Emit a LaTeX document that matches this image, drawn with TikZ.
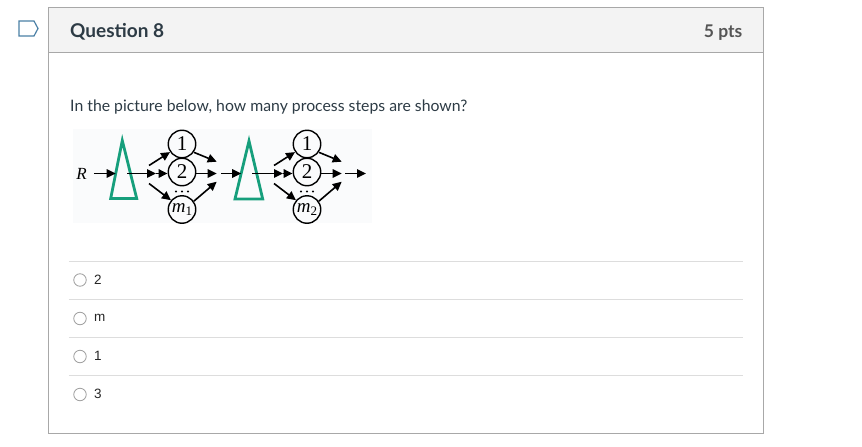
\documentclass[tikz,border=0pt]{standalone}
\usepackage{fontspec}
\setmainfont{Lato}
\newfontfamily\seriffont{Liberation Serif}
\newfontfamily\arialfont{Liberation Sans}
\usetikzlibrary{arrows.meta}
\definecolor{bordergray}{HTML}{A8A8A8}
\definecolor{headbg}{HTML}{F3F3F3}
\definecolor{textdark}{HTML}{2D3B45}
\definecolor{ptsgray}{HTML}{555555}
\definecolor{sepgray}{HTML}{DDDDDD}
\definecolor{radiogray}{HTML}{A0A0A0}
\definecolor{flagblue}{HTML}{4A7FA5}
\definecolor{trigreen}{HTML}{169F7C}
\definecolor{imgbg}{HTML}{FAFBFC}
\tikzset{
  proc/.style={circle, draw, line width=1.4pt, minimum size=27.5pt, inner sep=0pt,
    font=\seriffont\fontsize{21}{21}\selectfont},
  flow/.style={line width=1.6pt, -{Triangle[length=9pt,width=8.5pt]}},
  tri/.style={draw=trigreen, line width=2.8pt, line join=miter},
  dot/.style={circle, fill, inner sep=0pt, minimum size=2.2pt},
  radio/.style={circle, draw=radiogray, line width=0.8pt, minimum size=12.5pt, inner sep=0pt},
  answer/.style={anchor=west, inner sep=0pt, text=black!85, font=\arialfont\fontsize{13.5}{14}\selectfont},
  sep/.style={draw=sepgray, line width=1pt}
}
\begin{document}
\begin{tikzpicture}[x=1pt,y=-1pt]
\useasboundingbox (0,0) rectangle (862,447);
% card
\fill[headbg] (48,7) rectangle (763,52);
\draw[bordergray, line width=1pt] (48,7) rectangle (763,433);
\draw[bordergray, line width=1pt] (48,52) -- (763,52);
% flag icon
\draw[flagblue, line width=1.2pt, line join=miter] (19,21) -- (34,21) -- (38,28.5) -- (34,36) -- (19,36) -- cycle;
% header texts
\node[anchor=base west, inner sep=0pt, text=textdark, font=\fontsize{19}{19}\selectfont\bfseries] (q) at (70,37) {Question 8};
\node[anchor=base east, inner sep=0pt, text=ptsgray, font=\fontsize{17.5}{18}\selectfont\bfseries] (pts) at (742.5,37) {5 pts};
% question
\node[anchor=base west, inner sep=0pt, text=textdark, font=\fontsize{15.8}{17}\selectfont] (qt) at (70,111) {In the picture below, how many process steps are shown?};
% image background
\fill[imgbg] (73,129) rectangle (372,223);
% diagram
\node[inner sep=0pt, font=\seriffont\itshape\fontsize{17}{17}\selectfont] (R) at (81.5,173.5) {R};
\draw[tri] (110.7,198.5) -- (122.3,140.5) -- (136.7,198.5) -- cycle;
\coordinate (t1in) at (115.7,173.5);
\coordinate (t1c) at (127,173.5);
\coordinate (f1) at (156,173.5);
\node[proc] (a1) at (182,144) {1};
\node[proc] (a2) at (182,172) {2};
\node[proc] (am) at (182,209.5) {\seriffont\itshape\fontsize{19}{19}\selectfont m\raisebox{-3.5pt}{\upshape\fontsize{13}{13}\selectfont 1}};
\node[dot] (d1a) at (176,191.5) {};
\node[dot] (d1b) at (182,191.5) {};
\node[dot] (d1c) at (188,191.5) {};
\coordinate (u1) at (149,165.5);
\coordinate (l1) at (149,183.5);
\coordinate (j1a) at (216.7,161.7);
\coordinate (j1b) at (216.7,173.5);
\coordinate (j1c) at (216.7,181.7);
\coordinate (o1) at (221,173.5);
\draw[flow, shorten <=7pt] (R) -- (t1in);
\draw[flow] (t1c) -- (f1);
\draw[flow] (f1) -- (a2.west |- f1);
\draw[flow] (u1) -- (a1.214);
\draw[flow] (l1) -- (am.140);
\draw[flow] (a1.-35) -- (j1a);
\draw[flow] (a2.east |- j1b) -- (j1b);
\draw[flow] (am.35) -- (j1c);
% second stage
\draw[tri] (235,199) -- (249,141) -- (262.7,199) -- cycle;
\coordinate (t2in) at (241.2,173.5);
\coordinate (t2c) at (252,173.5);
\coordinate (f2) at (283,173.5);
\node[proc] (b1) at (307,144) {1};
\node[proc] (b2) at (307,172) {2};
\node[proc] (bm) at (307,209.5) {\seriffont\itshape\fontsize{19}{19}\selectfont m\raisebox{-3.5pt}{\upshape\fontsize{13}{13}\selectfont 2}};
\node[dot] (d2a) at (301,191.5) {};
\node[dot] (d2b) at (307,191.5) {};
\node[dot] (d2c) at (313,191.5) {};
\coordinate (u2) at (274,165.5);
\coordinate (l2) at (274,183.5);
\coordinate (j2a) at (341.7,161.7);
\coordinate (j2b) at (341.7,173.5);
\coordinate (j2c) at (341.7,181.7);
\coordinate (o2) at (345,173.5);
\coordinate (end) at (366,173.5);
\draw[flow] (o1) -- (t2in);
\draw[flow] (t2c) -- (f2);
\draw[flow] (f2) -- (b2.west |- f2);
\draw[flow] (u2) -- (b1.214);
\draw[flow] (l2) -- (bm.140);
\draw[flow] (b1.-35) -- (j2a);
\draw[flow] (b2.east |- j2b) -- (j2b);
\draw[flow] (bm.35) -- (j2c);
\draw[flow] (o2) -- (end);
% answers
\draw[sep] (68.5,261.5) -- (742.5,261.5);
\draw[sep] (68.5,299.5) -- (742.5,299.5);
\draw[sep] (68.5,337.5) -- (742.5,337.5);
\draw[sep] (68.5,375.5) -- (742.5,375.5);
\node[radio] (r1) at (80,280) {};
\node[radio] (r2) at (80,318.5) {};
\node[radio] (r3) at (80,356.5) {};
\node[radio] (r4) at (80,394.5) {};
\node[answer] (s1) at (94,280) {2};
\node[answer] (s2) at (94,318) {m};
\node[answer] (s3) at (94,356) {1};
\node[answer] (s4) at (94,394) {3};
\end{tikzpicture}
\end{document}
